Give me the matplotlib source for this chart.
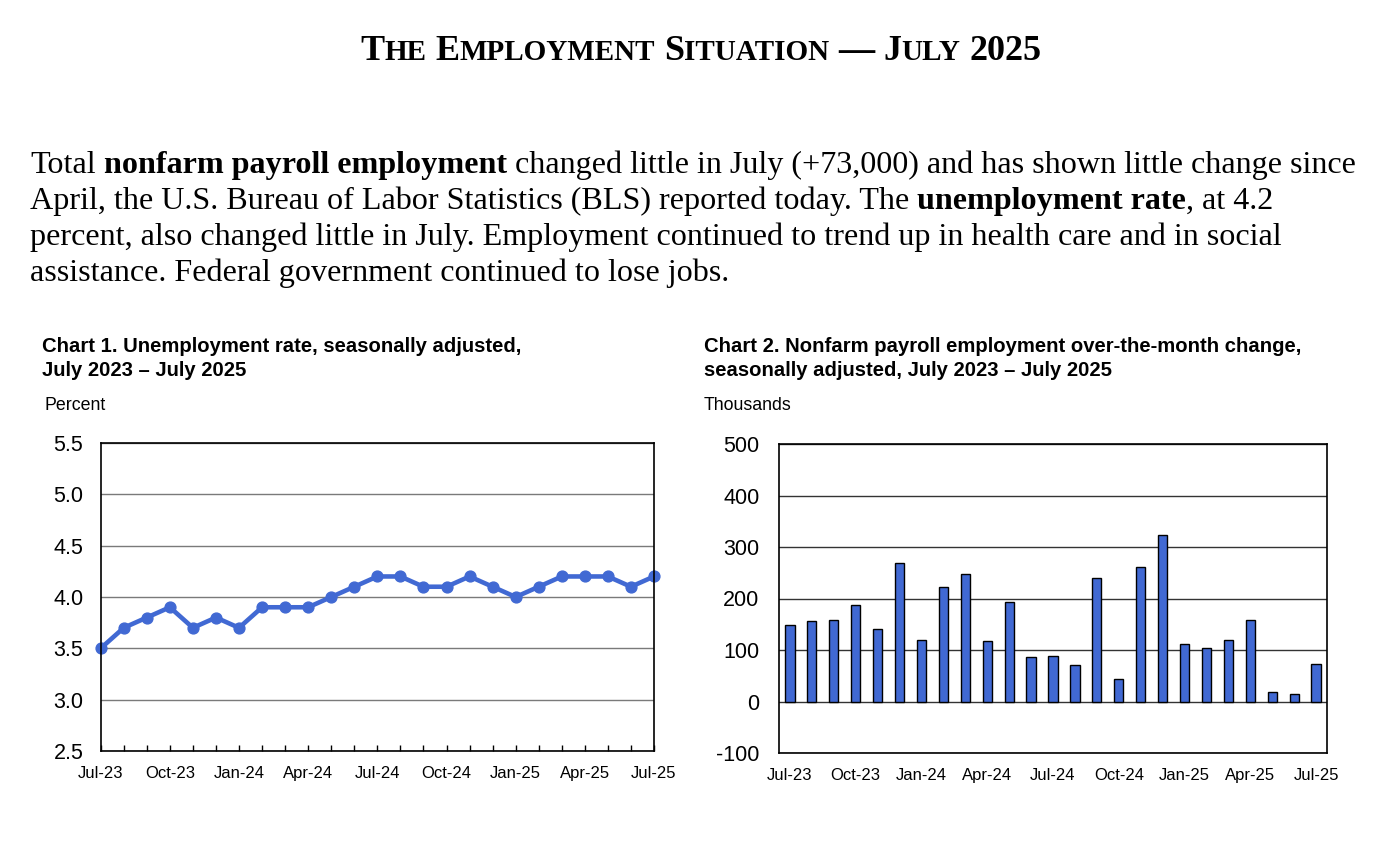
import numpy as np
import matplotlib
matplotlib.use("Agg")
import matplotlib.pyplot as plt

# data, Jul-2023 .. Jul-2025
months = ["Jul-23", "Aug-23", "Sep-23", "Oct-23", "Nov-23", "Dec-23",
          "Jan-24", "Feb-24", "Mar-24", "Apr-24", "May-24", "Jun-24",
          "Jul-24", "Aug-24", "Sep-24", "Oct-24", "Nov-24", "Dec-24",
          "Jan-25", "Feb-25", "Mar-25", "Apr-25", "May-25", "Jun-25", "Jul-25"]
unemp_rate = [3.5, 3.7, 3.8, 3.9, 3.7, 3.8, 3.7, 3.9, 3.9, 3.9, 4.0, 4.1,
              4.2, 4.2, 4.1, 4.1, 4.2, 4.1, 4.0, 4.1, 4.2, 4.2, 4.2, 4.1, 4.2]
payroll_change = [148, 157, 159, 187, 141, 269, 119, 223, 247, 118, 194, 87,
                  88, 71, 240, 44, 262, 323, 111, 103, 120, 158, 19, 14, 73]
label_every = 3

plt.rcParams["axes.unicode_minus"] = False

W, H = 1383, 843
fig = plt.figure(figsize=(W / 100, H / 100), dpi=100)
renderer = fig.canvas.get_renderer()

SERIF = "Liberation Serif"
SANS = "Liberation Sans"
BLUE = "#4169D3"


def text_width(s, **kw):
    t = fig.text(0, 0, s, **kw)
    w = t.get_window_extent(renderer).width
    t.remove()
    return w


def draw_runs(x, y, runs, center=False):
    # runs: (text, size, weight, space_before); x, y in pixels from top-left
    widths = []
    for s, size, weight, sp in runs:
        kw = dict(family=SERIF, size=size, weight=weight)
        gap = text_width("a a", **kw) - text_width("aa", **kw) if sp else 0
        widths.append((gap, text_width(s, **kw)))
    total = sum(g + w for g, w in widths)
    if center:
        x = x - total / 2
    for (s, size, weight, sp), (g, w) in zip(runs, widths):
        x += g
        fig.text(x / W, 1 - y / H, s, family=SERIF, size=size, weight=weight,
                 va="baseline", ha="left")
        x += w


# headline in small caps
big, small = 26, 21
title_runs = [("T", big, "bold", 0), ("HE", small, "bold", 0),
              ("E", big, "bold", 1), ("MPLOYMENT", small, "bold", 0),
              ("S", big, "bold", 1), ("ITUATION", small, "bold", 0),
              ("\u2014", big, "bold", 1),
              ("J", big, "bold", 1), ("ULY", small, "bold", 0),
              ("2025", big, "bold", 1)]
draw_runs(701, 60, title_runs, center=True)

# paragraph
ps = 23.1
para = [
    [("Total", 0, 0), ("nonfarm payroll employment", 1, 1),
     ("changed little in July (+73,000) and has shown little change since", 0, 1)],
    [("April, the U.S. Bureau of Labor Statistics (BLS) reported today. The", 0, 0),
     ("unemployment rate", 1, 1), (", at 4.2", 0, 0)],
    [("percent, also changed little in July. Employment continued to trend up in health care and in social", 0, 0)],
    [("assistance. Federal government continued to lose jobs.", 0, 0)],
]
for i, line in enumerate(para):
    runs = [(s, ps, "bold" if b else "normal", sp) for s, b, sp in line]
    draw_runs(30, 173 + 36 * i, runs)

# chart headings
head1 = ["Chart 1. Unemployment rate, seasonally adjusted,", "July 2023 \u2013 July 2025"]
head2 = ["Chart 2. Nonfarm payroll employment over-the-month change,",
         "seasonally adjusted, July 2023 \u2013 July 2025"]
for hx, lines in ((42, head1), (704, head2)):
    for j, s in enumerate(lines):
        fig.text(hx / W, 1 - (346 + 25 * j) / H, s, family=SANS, weight="bold",
                 size=14.6, va="center")
fig.text(44 / W, 1 - 406 / H, "Percent", family=SANS, size=12.8, va="center")
fig.text(704 / W, 1 - 406 / H, "Thousands", family=SANS, size=12.8, va="center")

x = np.arange(len(months))
tick_pos = x[::label_every]
tick_lab = months[::label_every]

# chart 1: unemployment rate
ax1 = fig.add_axes([100.7 / W, (H - 751) / H, 553.3 / W, 308 / H])
ax1.plot(x, unemp_rate, color=BLUE, lw=3.3, marker="o", ms=7.8, clip_on=False, zorder=3)
ax1.set_xlim(0, len(months) - 1)
ax1.set_ylim(2.5, 5.5)
yt1 = np.arange(2.5, 5.51, 0.5)
ax1.set_yticks(yt1)
ax1.set_yticklabels([f"{v:.1f}" for v in yt1])
ax1.yaxis.grid(True, color="#7a7a7a", lw=1)
ax1.set_xticks(tick_pos)
ax1.set_xticklabels(tick_lab)
ax1.set_xticks(x, minor=True)
ax1.tick_params(axis="x", which="both", direction="in", length=4, width=1)
ax1.tick_params(axis="x", which="major", pad=11, labelsize=12)
ax1.tick_params(axis="y", length=0, pad=12.5, labelsize=15.5)

# chart 2: payroll change
ax2 = fig.add_axes([779 / W, (H - 753) / H, 548 / W, 309 / H])
ax2.bar(x, payroll_change, width=0.42, color=BLUE, edgecolor="black", lw=1, zorder=3)
ax2.set_xlim(-0.5, len(months) - 0.5)
ax2.set_ylim(-100, 500)
ax2.set_yticks(np.arange(-100, 501, 100))
ax2.yaxis.grid(True, color="#333333", lw=1)
ax2.set_xticks(tick_pos)
ax2.set_xticklabels(tick_lab)
ax2.tick_params(axis="x", length=0, pad=11, labelsize=12)
ax2.tick_params(axis="y", length=0, pad=14, labelsize=15.5)

for ax in (ax1, ax2):
    ax.set_axisbelow(True)
    for lab in ax.get_xticklabels() + ax.get_yticklabels():
        lab.set_family(SANS)
    for sp in ax.spines.values():
        sp.set_linewidth(1.2)
        sp.set_zorder(4)

fig.savefig("out.png", dpi=100)
